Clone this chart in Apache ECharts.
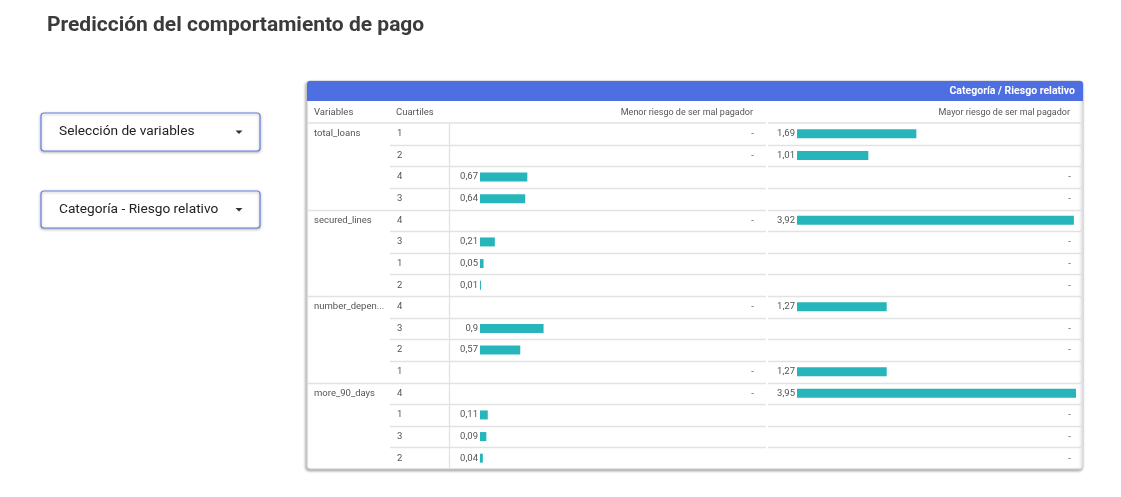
<!DOCTYPE html>
<html><head><meta charset="utf-8">
<script src="https://cdn.jsdelivr.net/npm/echarts@6/dist/echarts.min.js"></script>
<style>html,body{margin:0;padding:0;background:#fff}#c{width:1121px;height:497px}</style>
</head><body><div id="c"></div><script>
// ---- data ----
const title = 'Predicción del comportamiento de pago';
const selectors = ['Selección de variables', 'Categoría - Riesgo relativo'];
const headerTitle = 'Categoría / Riesgo relativo';
const columnHeaders = ['Variables', 'Cuartiles', 'Menor riesgo de ser mal pagador', 'Mayor riesgo de ser mal pagador'];
const variables = ['total_loans', 'secured_lines', 'number_dependents', 'more_90_days'];
const rowsPerVariable = [4, 4, 4, 4];
const quartiles = ['1','2','4','3', '4','3','1','2', '4','3','2','1', '4','1','3','2'];
const lowerRisk = [null,null,0.67,0.64, null,0.21,0.05,0.01, null,0.9,0.57,null, null,0.11,0.09,0.04];
const higherRisk = [1.69,1.01,null,null, 3.92,null,null,null, 1.27,null,null,1.27, 3.95,null,null,null];
const scaleMax = 3.95;

// ---- layout ----
const FONT = 'Roboto';
const TXT = '#555';
const LINE = '#e2e2e2';
const BAR = '#26b5bb';
const card = {x: 307, y: 81, w: 776, h: 388};
const headTop = 101, bodyTop = 123, bodyBottom = 469;
const nRows = quartiles.length;
const rowH = (bodyBottom - bodyTop) / nRows;
const rows = quartiles.map((_, i) => String(i));
const varAtRow = [];
const groupEnd = new Set();
let acc = 0;
variables.forEach((v, g) => {
  for (let k = 0; k < rowsPerVariable[g]; k++) varAtRow.push(k === 0 ? v : '');
  acc += rowsPerVariable[g];
  groupEnd.add(acc - 1);
});
const fmt = v => String(v).replace('.', ',');

const graphics = [];
// title
graphics.push({type:'text', z:10, style:{text:title, x:47, y:26, fill:'#3b3b3b', font:'bold 21px Roboto', textVerticalAlign:'middle', verticalAlign:'middle'}});
// selectors
const selBoxes = [{y:113, h:38}, {y:191, h:37}];
selectors.forEach((s, i) => {
  const b = selBoxes[i];
  graphics.push({type:'rect', z:1, shape:{x:41, y:b.y, width:219, height:b.h, r:3},
    style:{fill:'#fff', stroke:'#6a80e6', lineWidth:1.2, shadowBlur:3, shadowOffsetY:1, shadowColor:'rgba(0,0,0,0.3)'}});
  graphics.push({type:'text', z:2, style:{text:s, x:59, y:b.y + b.h/2, fill:'#222', font:'13.7px Roboto', textVerticalAlign:'middle', verticalAlign:'middle'}});
  const cx = 239, cy = b.y + b.h/2;
  graphics.push({type:'polygon', z:2, shape:{points:[[cx-3.5, cy-1.5],[cx+3.5, cy-1.5],[cx, cy+2]]}, style:{fill:'#333'}});
});
// card
graphics.push({type:'rect', z:-10, shape:{x:card.x, y:card.y, width:card.w, height:card.h, r:3},
  style:{fill:'#fff', stroke:'#d0d0d0', lineWidth:1, shadowBlur:3, shadowOffsetX:-1, shadowOffsetY:1.5, shadowColor:'rgba(0,0,0,0.35)'}});
graphics.push({type:'rect', z:-9, shape:{x:card.x, y:card.y, width:card.w, height:headTop - card.y, r:[3,3,0,0]},
  style:{fill:'#4d6fe2'}});
graphics.push({type:'text', z:5, style:{text:headerTitle, x:1075, y:(card.y + headTop)/2 + 0.5, fill:'#fff', font:'bold 10.5px Roboto', textAlign:'right', align:'right', textVerticalAlign:'middle', verticalAlign:'middle'}});
// column headers
const headY = (headTop + bodyTop) / 2 + 1;
const headX = [[314,'left'],[396,'left'],[753,'right'],[1070,'right']];
const headSize = ['9.5px', '9.5px', '9px', '9px'];
columnHeaders.forEach((t, i) => {
  graphics.push({type:'text', z:5, style:{text:t, x:headX[i][0], y:headY, fill:TXT, font:headSize[i] + ' Roboto', textAlign:headX[i][1], align:headX[i][1], textVerticalAlign:'middle', verticalAlign:'middle'}});
});
// lines
function hline(x1, x2, y) {
  graphics.push({type:'line', z:-5, shape:{x1:x1, y1:y, x2:x2, y2:y}, style:{stroke:LINE, lineWidth:1.3}});
}
hline(card.x, 766, bodyTop); hline(768, card.x + card.w, bodyTop);
for (let i = 0; i < nRows - 1; i++) {
  const y = Math.round(bodyTop + (i + 1) * rowH) + 0.5;
  hline(groupEnd.has(i) ? card.x : 390, 766, y);
  hline(768, card.x + card.w, y);
}
graphics.push({type:'line', z:-5, shape:{x1:449.5, y1:bodyTop, x2:449.5, y2:bodyBottom}, style:{stroke:LINE, lineWidth:1.3}});

const baseLabel = {color:TXT, fontSize:9.5, fontFamily:FONT, padding:[4,0,0,0]};
function catAxis(grid, position, label) {
  return {type:'category', gridIndex:grid, data:rows, inverse:true, position:position,
    axisLine:{show:false}, axisTick:{show:false}, splitLine:{show:false},
    axisLabel:Object.assign({interval:0, hideOverlap:false}, baseLabel, label)};
}

const chart = echarts.init(document.getElementById('c'), null, {renderer:'canvas'});
chart.setOption({
  animation:false,
  textStyle:{fontFamily:FONT},
  grid:[
    {left:480, width:279, top:bodyTop, height:bodyBottom - bodyTop, containLabel:false},
    {left:797, width:279, top:bodyTop, height:bodyBottom - bodyTop, containLabel:false}
  ],
  xAxis:[
    {type:'value', gridIndex:0, min:0, max:scaleMax, show:false},
    {type:'value', gridIndex:1, min:0, max:scaleMax, show:false}
  ],
  yAxis:[
    catAxis(0, 'left', {margin:83, align:'left', formatter:(v, i) => quartiles[i]}),
    catAxis(0, 'left', {margin:166, align:'left', width:74, overflow:'truncate', ellipsis:'...', formatter:(v, i) => varAtRow[i]}),
    catAxis(0, 'right', {inside:true, margin:5, align:'right', formatter:(v, i) => lowerRisk[i] == null ? '-' : ''}),
    catAxis(1, 'left', {show:false}),
    catAxis(1, 'right', {inside:true, margin:5, align:'right', formatter:(v, i) => higherRisk[i] == null ? '-' : ''})
  ],
  series:[
    {type:'bar', name:columnHeaders[2], xAxisIndex:0, yAxisIndex:0, data:lowerRisk, barWidth:9, barMinHeight:1,
      itemStyle:{color:BAR}, label:Object.assign({show:true, position:'left', distance:2, formatter:p => fmt(p.value)}, baseLabel)},
    {type:'bar', name:columnHeaders[3], xAxisIndex:1, yAxisIndex:3, data:higherRisk, barWidth:9, barMinHeight:1,
      itemStyle:{color:BAR}, label:Object.assign({show:true, position:'left', distance:2, formatter:p => fmt(p.value)}, baseLabel)}
  ],
  graphic:graphics
});
</script></body></html>
